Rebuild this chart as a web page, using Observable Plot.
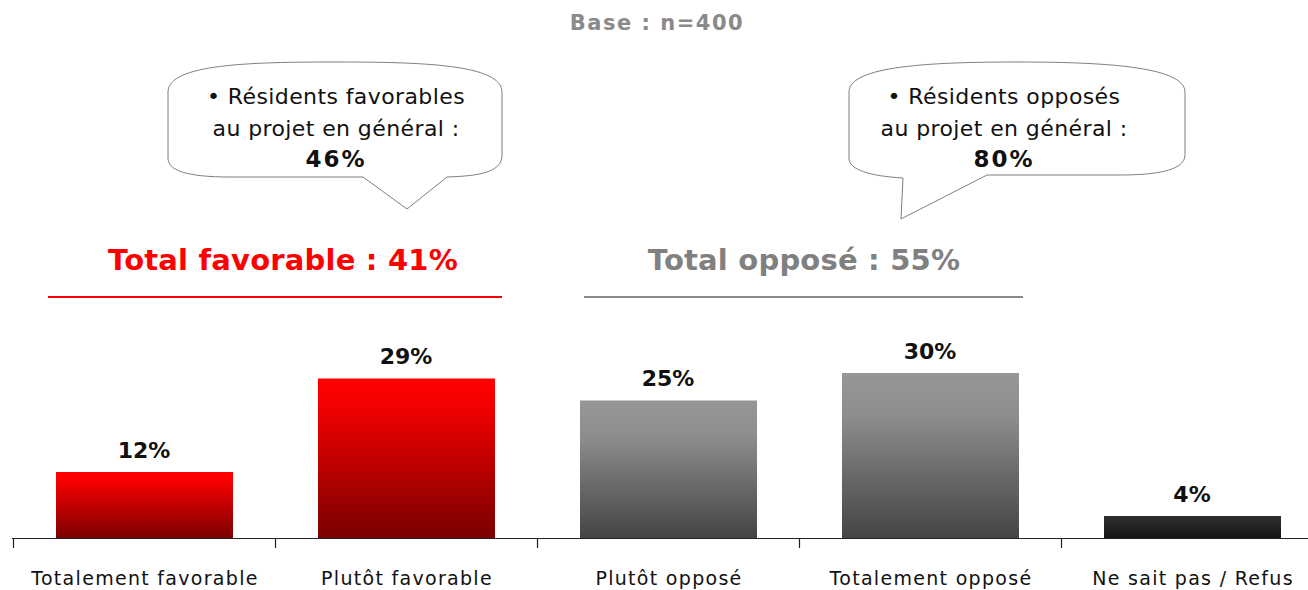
<!DOCTYPE html>
<html>
<head>
<meta charset="utf-8">
<script src="https://cdn.jsdelivr.net/npm/d3@7"></script>
<script src="https://cdn.jsdelivr.net/npm/@observablehq/plot@0.6"></script>
<style>
  html, body { margin: 0; padding: 0; background: #fff; }
  #chart { position: relative; width: 1308px; height: 590px; overflow: hidden; }
  svg { font-family: "DejaVu Sans", Verdana, sans-serif; }
</style>
</head>
<body>
<div id="chart"></div>
<script>
// ---- data ----
const categories = ["Totalement favorable", "Plutôt favorable", "Plutôt opposé", "Totalement opposé", "Ne sait pas / Refus"];
const values = [12, 29, 25, 30, 4];
const groups = ["fav", "fav", "opp", "opp", "nsp"];
const baseText = "Base : n=400";
const totalFavLabel = "Total favorable : 41%";
const totalOppLabel = "Total opposé : 55%";
const calloutFav = ["• Résidents favorables", "au projet en général :", "46%"];
const calloutOpp = ["• Résidents opposés", "au projet en général :", "80%"];

const data = categories.map((c, i) => ({cat: c, value: values[i], group: groups[i]}));
const gradId = {fav: "url(#gFav)", opp: "url(#gOpp)", nsp: "url(#gNsp)"};

const W = 1308, H = 590;
const plot = Plot.plot({
  width: W,
  height: H,
  marginLeft: 12,
  marginRight: 0,
  marginTop: 208,
  marginBottom: 52,
  style: {background: "transparent", fontFamily: "DejaVu Sans, sans-serif", overflow: "visible"},
  x: {domain: categories, range: [12, 1324], paddingInner: 0.326, paddingOuter: 0.163, axis: null},
  y: {domain: [0, 60], axis: null},
  marks: [
    Plot.barY(data, {x: "cat", y: "value", fill: d => gradId[d.group]}),
    Plot.text(data, {x: "cat", y: "value", text: d => d.value + "%", dy: -22, dx: -1, fontSize: 22, fontWeight: "bold", fill: "#111", style: "letter-spacing:3px"}),
    Plot.ruleY([0], {stroke: "#222", strokeWidth: 1.2}),
    Plot.axisX({domain: categories, tickSize: 0, tickPadding: 0, dy: 33, fontSize: 19, fill: "#111", label: null})
  ]
});
document.getElementById("chart").appendChild(plot);

const svg = d3.select(plot);
svg.selectAll("[aria-label='x-axis tick label'] text").style("letter-spacing", "1.3px");
// gradients
const defs = svg.insert("defs", ":first-child");
function grad(id, stops) {
  const g = defs.append("linearGradient").attr("id", id).attr("x1", 0).attr("y1", 0).attr("x2", 0).attr("y2", 1);
  stops.forEach(([o, c]) => g.append("stop").attr("offset", o).attr("stop-color", c));
}
grad("gFav", [[0, "#ff0000"], [0.15, "#f60000"], [1, "#7a0000"]]);
grad("gOpp", [[0, "#969696"], [0.25, "#8e8e8e"], [1, "#444444"]]);
grad("gNsp", [[0, "#2f2f2f"], [1, "#141414"]]);

const xs = plot.scale("x");
const step = xs.step, bw = xs.bandwidth;
const left = c => xs.apply(c);
const y0 = plot.scale("y").apply(0);

// axis ticks at band boundaries
const boundaries = categories.map(c => left(c) - (step - bw) / 2);
svg.append("g").selectAll("line").data(boundaries).join("line")
  .attr("x1", d => d).attr("x2", d => d)
  .attr("y1", y0).attr("y2", y0 + 10)
  .attr("stroke", "#222").attr("stroke-width", 1.2);

const ann = svg.append("g");
// base text
ann.append("text").attr("x", 657).attr("y", 30).attr("text-anchor", "middle")
  .attr("font-size", 21).attr("font-weight", "bold").attr("fill", "#8a8a8a").style("letter-spacing", "1.5px").text(baseText);

// totals
const favL = left(categories[0]) - 8, favR = left(categories[1]) + bw + 7;
const oppL = left(categories[2]) + 4, oppR = left(categories[3]) + bw + 4;
ann.append("text").attr("x", 283).attr("y", 270).attr("text-anchor", "middle")
  .attr("font-size", 29).attr("font-weight", "bold").attr("fill", "#ff0000").style("letter-spacing", "0.2px").text(totalFavLabel);
ann.append("line").attr("x1", favL).attr("x2", favR).attr("y1", 297).attr("y2", 297)
  .attr("stroke", "#ff0000").attr("stroke-width", 2);
ann.append("text").attr("x", 804).attr("y", 270).attr("text-anchor", "middle")
  .attr("font-size", 29).attr("font-weight", "bold").attr("fill", "#808080").style("letter-spacing", "0.2px").text(totalOppLabel);
ann.append("line").attr("x1", oppL).attr("x2", oppR).attr("y1", 297).attr("y2", 297)
  .attr("stroke", "#8a8a8a").attr("stroke-width", 2);

// callouts
ann.append("path").attr("d", `M 168,92 C 168,64 250,62 335,62 C 420,62 502,64 502,92 L 502,155 C 502,172 480,176 447,177 L 407,209 L 363,177 L 230,177 C 185,177 168,170 168,158 Z`)
  .attr("fill", "#fff").attr("stroke", "#7f7f7f").attr("stroke-width", 1);
ann.append("path").attr("d", `M 849,92 C 849,66 930,62 1017,62 C 1100,62 1185,66 1185,92 L 1185,155 C 1185,172 1150,175 1120,175 L 987,175 L 901,219 L 903,178 C 870,176 849,170 849,158 Z`)
  .attr("fill", "#fff").attr("stroke", "#7f7f7f").attr("stroke-width", 1);

function calloutText(cx, lines) {
  const g = ann.append("g").attr("text-anchor", "middle").attr("fill", "#111");
  g.append("text").attr("x", cx).attr("y", 104).attr("font-size", 22).style("letter-spacing", "0.4px").text(lines[0]);
  g.append("text").attr("x", cx).attr("y", 136).attr("font-size", 22).style("letter-spacing", "0.4px").text(lines[1]);
  g.append("text").attr("x", cx).attr("y", 167).attr("font-size", 23).attr("font-weight", "bold").style("letter-spacing", "2px").text(lines[2]);
}
calloutText(336, calloutFav);
calloutText(1004, calloutOpp);
</script>
</body>
</html>
